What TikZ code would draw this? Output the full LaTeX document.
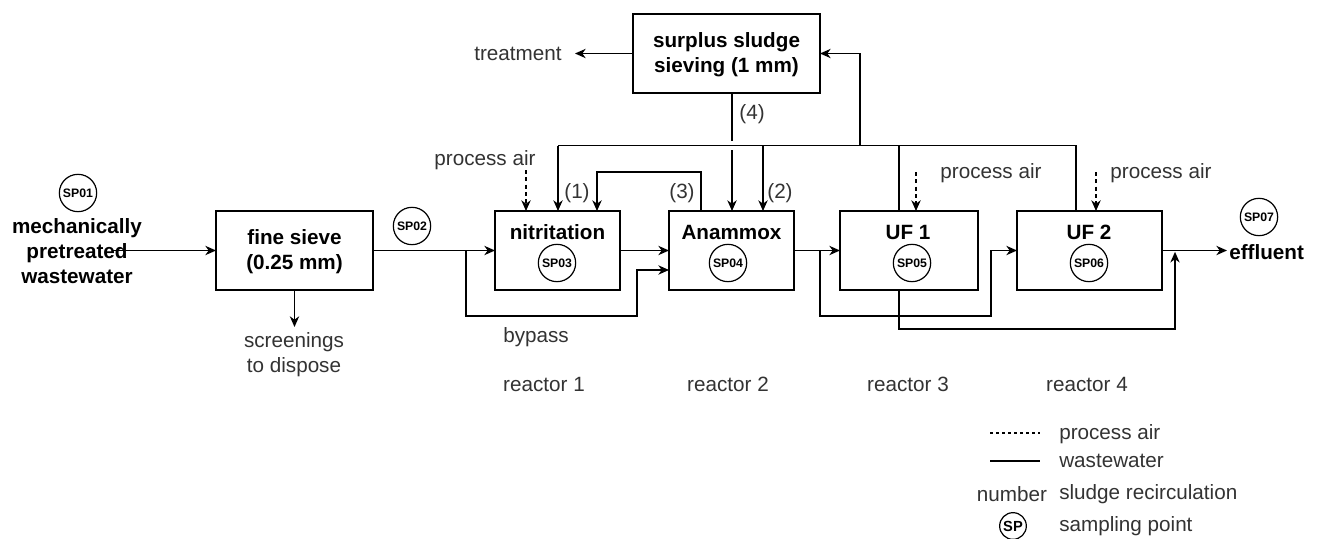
\documentclass[tikz,border=0pt]{standalone}
\usepackage{fontspec}
\setmainfont{Liberation Sans}
\usetikzlibrary{arrows.meta}
\definecolor{txt}{HTML}{333333}
\tikzset{
  every picture/.style={x=0.75pt,y=-0.75pt},
  ln/.style={line width=1pt,draw=black},
  arr/.style={ln,-{Stealth[length=8pt,width=7pt,inset=2.5pt]}},
  air/.style={arr,dash pattern=on 3pt off 2.5pt},
  pbox/.style 2 args={draw,line width=1pt,minimum width=#1*0.75pt,minimum height=#2*0.75pt,inner sep=0pt,outer sep=0pt},
  btxt/.style={font=\fontsize{15.5}{18.8}\selectfont\bfseries,text=black,align=center,inner sep=0pt},
  ntxt/.style={font=\fontsize{15.5}{18.8}\selectfont,text=txt,align=center,inner sep=0pt},
  sp/.style={circle,draw,line width=0.9pt,minimum size=28pt,inner sep=0pt,font=\fontsize{9.2}{10}\selectfont\bfseries},
}
\begin{document}
\begin{tikzpicture}
\useasboundingbox[fill=white] (0,0) rectangle (1322,539);

% boxes
\node[pbox={157}{79}] (sieve) at (294.5,250.5) {};
\node[pbox={125}{79}] (nitr) at (557.5,250.5) {};
\node[pbox={125}{79}] (anam) at (731.5,250.5) {};
\node[pbox={138}{79}] (uf1) at (909,250.5) {};
\node[pbox={145}{79}] (uf2) at (1089.5,250.5) {};
\node[pbox={187}{79}] (surp) at (726.5,53.5) {};

% box texts
\node[btxt] (tsieve) at (294.5,252) {fine sieve\\(0.25 mm)};
\node[btxt] (tsurp) at (726.5,55) {surplus sludge\\sieving (1 mm)};
\node[btxt] (tnitr) at (557.5,232) {nitritation};
\node[btxt] (tanam) at (731.5,232) {Anammox};
\node[btxt] (tuf1) at (908,232) {UF 1};
\node[btxt] (tuf2) at (1089,232) {UF 2};
\node[btxt] (tin) at (77,251) {mechanically\\pretreated\\wastewater};
\node[btxt,anchor=west] (teff) at (1229,252) {effluent};

% sampling points
\node[sp] (sp1) at (78,193) {SP01};
\node[sp] (sp2) at (412,226) {SP02};
\node[sp] (sp3) at (557,263) {SP03};
\node[sp] (sp4) at (728,263) {SP04};
\node[sp] (sp5) at (912,263) {SP05};
\node[sp] (sp6) at (1089,263) {SP06};
\node[sp] (sp7) at (1259,217) {SP07};

% plain texts
\node[ntxt] (ttreat) at (518,54) {treatment};
\node[ntxt] (tscr) at (294,355) {screenings\\to dispose};
\node[ntxt] (tair1) at (485,160) {process air};
\node[ntxt] (tair2) at (991,173) {process air};
\node[ntxt] (tair3) at (1161,173) {process air};
\node[ntxt] (l1) at (577,193) {(1)};
\node[ntxt] (l3) at (682,193) {(3)};
\node[ntxt] (l2) at (780,193) {(2)};
\node[ntxt] (l4) at (752,114) {(4)};
\node[ntxt] (tby) at (536,337) {bypass};
\node[ntxt] (r1) at (544,384) {reactor 1};
\node[ntxt] (r2) at (728,384) {reactor 2};
\node[ntxt] (r3) at (908,384) {reactor 3};
\node[ntxt] (r4) at (1087,384) {reactor 4};

% coordinates
\coordinate (in) at (113,250.5);
\coordinate (eff) at (1227,250.5);
\coordinate (scr) at (294.5,327);
\coordinate (trt) at (575,53.5);
\coordinate (airA) at (526,170);
\coordinate (airB) at (916,172);
\coordinate (airC) at (1096,172);
\coordinate (byp) at (466,250.5);
\coordinate (brn) at (820,250.5);
\coordinate (effj) at (1175,250.5);
\coordinate (g1) at (732,141);
\coordinate (g2) at (732,150);

% main flow
\draw[arr] (in) -- (sieve.west);
\draw[arr] (sieve.east) -- (nitr.west);
\draw[arr] (nitr.east) -- (anam.west);
\draw[arr] (anam.east) -- (uf1.west);
\draw[arr] (uf2.east) -- (eff);
\draw[arr] (sieve.south) -- (scr);
\draw[arr] (surp.west) -- (trt);

% bypass nitritation
\draw[arr] (byp) |- (637,316) |- ([yshift=-19.5*0.75pt]anam.west);
% UF1 bypass
\draw[arr] (brn) |- (991,316) |- (uf2.west);
% UF1 permeate to effluent
\draw[arr] (899,290) |- (1175,329) -- ([yshift=-1pt]effj);

% recirculation
\draw[ln] (1076,211) |- (558,145.5);
\draw[arr] (558,145.5) -- (558,211);
\draw[ln] (899,211) -- (899,145.5);
\draw[arr] (860,145.5) |- (surp.east);
\draw[arr] (763,145.5) -- (763,211);
\draw[ln] (732,93) -- (g1);
\draw[arr] (g2) -- (732,211);
\draw[arr] (701,211) |- (597,172) -- (597,211);

% process air
\draw[air] (airA) -- (526,211);
\draw[air] (airB) -- (916,211);
\draw[air] (airC) -- (1096,211);

% legend
\coordinate (la1) at (990,433); \coordinate (la2) at (1040,433);
\coordinate (lb1) at (990,461); \coordinate (lb2) at (1040,461);
\draw[line width=0.9pt,dash pattern=on 2.5pt off 2pt] (la1) -- (la2);
\draw[line width=0.9pt] (lb1) -- (lb2);
\node[ntxt,anchor=west] (lg1) at (1059,434) {process air};
\node[ntxt,anchor=west] (lg2) at (1059,461) {wastewater};
\node[ntxt] (lg3n) at (1012,494) {number};
\node[ntxt,anchor=west] (lg3) at (1059,494) {sludge recirculation};
\node[circle,draw,line width=0.9pt,minimum size=20pt,inner sep=0pt,font=\fontsize{11}{12}\selectfont\bfseries] (lsp) at (1013,526) {SP};
\node[ntxt,anchor=west] (lg4) at (1059,526) {sampling point};
\end{tikzpicture}
\end{document}
